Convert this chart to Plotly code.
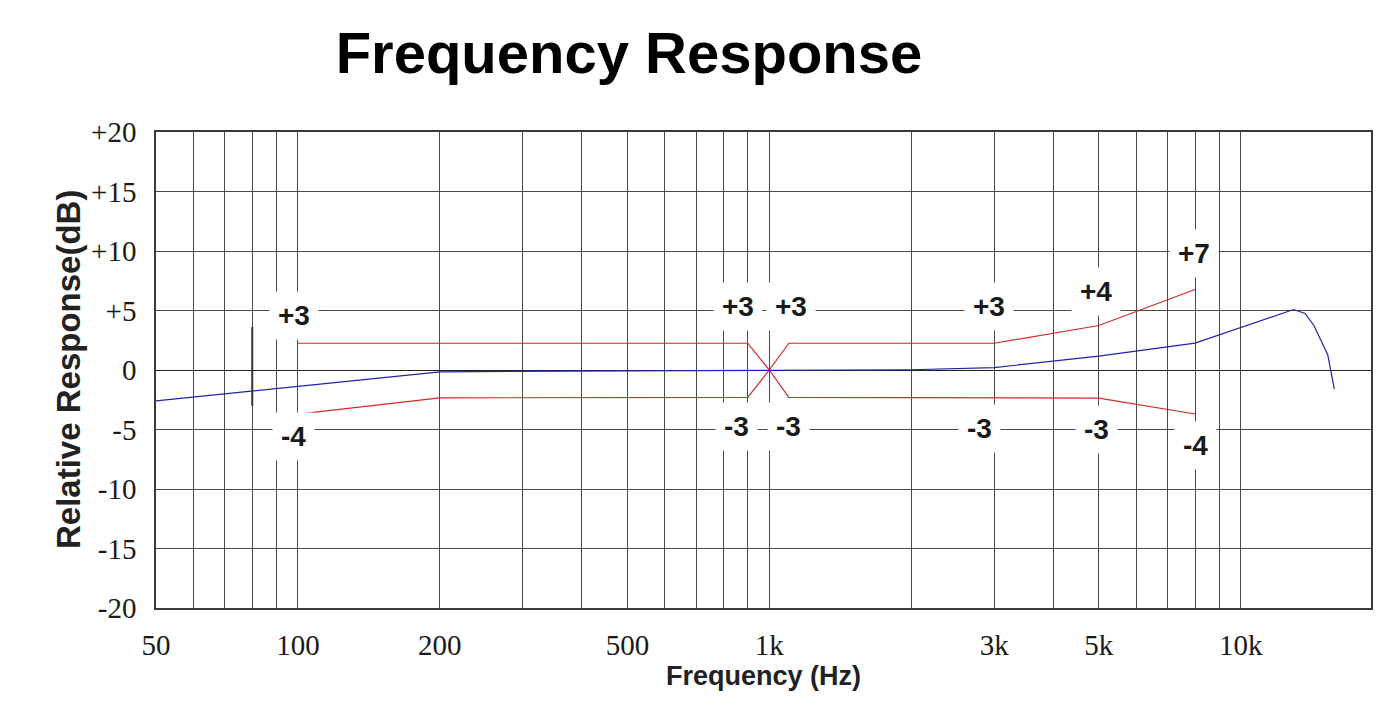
import plotly.graph_objects as go
import math

# ---- data ----
resp_freq = [50, 200, 500, 1000, 2000, 3000, 5000, 8000, 12950, 13700, 14300, 15300, 15800]
resp_db = [-2.6, -0.15, -0.07, 0.0, 0.02, 0.2, 1.17, 2.26, 5.08, 4.75, 3.74, 1.28, -1.6]

upper_freq = [100, 900, 1000, 1100, 3000, 5000, 8000]
upper_db = [2.25, 2.25, 0.0, 2.25, 2.25, 3.74, 6.76]

lower_freq = [100, 200, 900, 1000, 1100, 5000, 8000]
lower_db = [-3.7, -2.34, -2.3, 0.0, -2.3, -2.36, -3.7]

label_freq = [98, 98, 860, 1110, 850, 1097, 2930, 2790, 4940, 4950, 7980, 8000]
label_db = [4.6, -5.6, 5.3, 5.3, -4.75, -4.75, 5.3, -4.94, 6.6, -5.03, 9.8, -6.37]
label_text = ["+3", "-4", "+3", "+3", "-3", "-3", "+3", "-3", "+4", "-3", "+7", "-4"]

grid_freq = [60, 70, 80, 90, 100, 200, 300, 400, 500, 600, 700, 800, 900, 1000,
             2000, 3000, 4000, 5000, 6000, 7000, 8000, 9000, 10000]
labelled = {50: "50", 100: "100", 200: "200", 500: "500", 1000: "1k",
            3000: "3k", 5000: "5k", 10000: "10k"}
x_tickvals = [50] + grid_freq
x_ticktext = [labelled.get(f, "") for f in x_tickvals]

y_tickvals = [20, 15, 10, 5, 0, -5, -10, -15, -20]
y_ticktext = ["+20", "+15", "+10", "+5", "0", "-5", "-10", "-15", "-20"]

x_min, x_max = 50, 18900
y_min, y_max = -20, 20

fig = go.Figure()
fig.add_trace(go.Scatter(x=upper_freq, y=upper_db, mode="lines",
                         line=dict(color="#d42a2a", width=1.2), showlegend=False))
fig.add_trace(go.Scatter(x=lower_freq, y=lower_db, mode="lines",
                         line=dict(color="#d42a2a", width=1.2), showlegend=False))
fig.add_trace(go.Scatter(x=resp_freq, y=resp_db, mode="lines",
                         line=dict(color="#2222a8", width=1.2), showlegend=False))

for f, d, t in zip(label_freq, label_db, label_text):
    fig.add_annotation(x=math.log10(f), y=d, text=t, showarrow=False,
                       font=dict(family="Liberation Sans Narrow, Arial Narrow, Liberation Sans, sans-serif",
                                 size=28, color="#1a1a1a", weight="bold"),
                       bgcolor="white", borderpad=8, xanchor="center", yanchor="middle")

# y-axis title placed as rotated text
fig.add_annotation(xref="paper", yref="paper", x=(68 - 156) / 1215, y=0.5,
                   text="<b>Relative Response(dB)</b>", textangle=-90, showarrow=False,
                   xanchor="center", yanchor="middle",
                   font=dict(family="Liberation Sans, Arial, sans-serif", size=33, color="#222222"))

# darker short segment on the 80 Hz line seen in the reference
fig.add_shape(type="line", x0=80, x1=80, y0=3.6, y1=-3.0, xref="x", yref="y",
              line=dict(color="#333333", width=2))

fig.update_layout(
    width=1394, height=714,
    margin=dict(l=156, r=23, t=132, b=106),
    paper_bgcolor="white", plot_bgcolor="white",
    title=dict(text="<b>Frequency Response</b>", x=629 / 1394, xanchor="center",
               y=1 - 53 / 714, yanchor="middle",
               font=dict(family="Liberation Sans, Arial, sans-serif", size=58, color="black")),
)
fig.update_layout(title_xref="container")

fig.update_xaxes(
    type="log", range=[math.log10(x_min), math.log10(x_max)],
    tickmode="array", tickvals=x_tickvals, ticktext=x_ticktext,
    showgrid=True, gridcolor="#4a4a4a", gridwidth=1,
    showline=True, linecolor="#3a3a3a", linewidth=1.5, mirror=True,
    ticks="", ticklabelstandoff=10,
    tickfont=dict(family="Liberation Serif, Times New Roman, serif", size=29, color="#1a1a1a"),
    title=dict(text="<b>Frequency (Hz)</b>", standoff=2,
               font=dict(family="Liberation Sans, Arial, sans-serif", size=27, color="#222222")),
    zeroline=False,
)
fig.update_yaxes(
    range=[y_min, y_max],
    tickmode="array", tickvals=y_tickvals, ticktext=y_ticktext,
    showgrid=True, gridcolor="#4a4a4a", gridwidth=1,
    showline=True, linecolor="#3a3a3a", linewidth=1.5, mirror=True,
    ticks="", ticklabelstandoff=12,
    tickfont=dict(family="Liberation Serif, Times New Roman, serif", size=29, color="#1a1a1a"),
    zeroline=True, zerolinecolor="#222222", zerolinewidth=1.3,
)

fig.write_html("out.html")
